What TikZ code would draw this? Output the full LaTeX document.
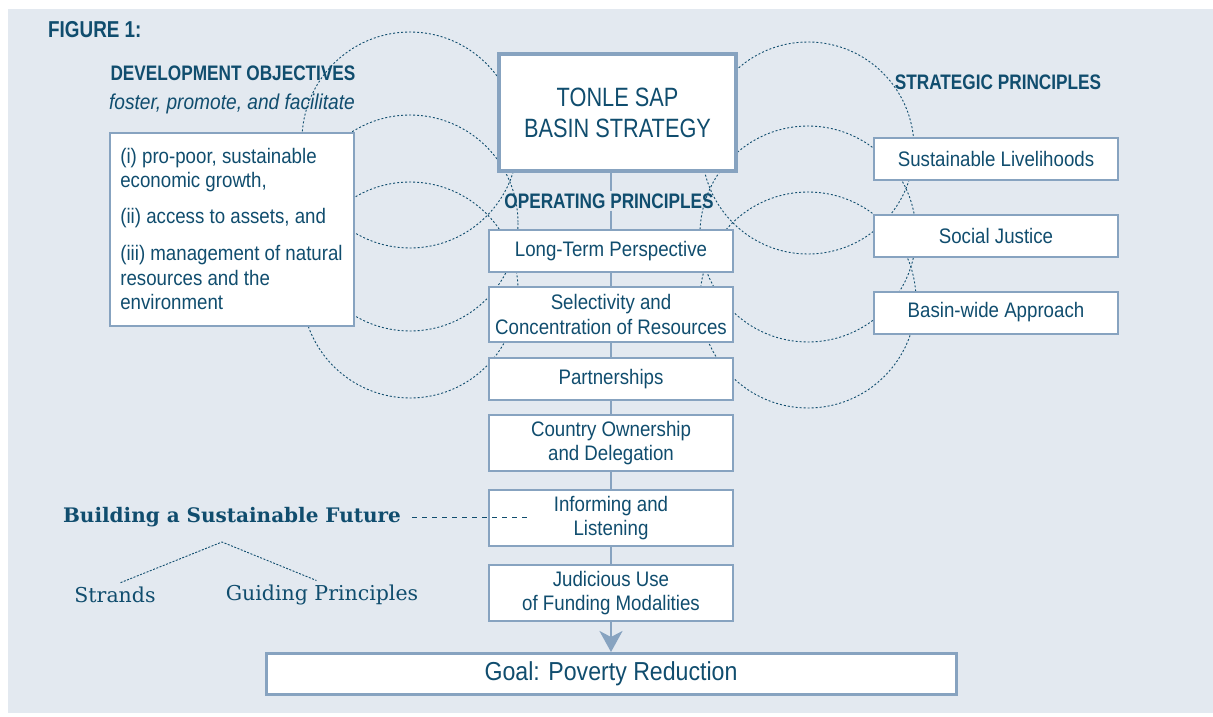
\documentclass[tikz,border=0pt]{standalone}
\usepackage{fontspec}
\setsansfont{Liberation Sans}[FakeStretch=0.89]
\newfontfamily\condfont{Liberation Sans}[FakeStretch=0.82]
\newfontfamily\slabfont{DejaVu Serif}
\usetikzlibrary{arrows.meta}
\definecolor{ink}{RGB}{16,77,110}
\definecolor{rimcol}{RGB}{135,163,192}
\definecolor{wash}{RGB}{227,233,240}

\begin{document}
\begin{tikzpicture} [x=1pt, y=-1pt,
  box/.style={draw=rimcol, line width=2pt, fill=white, minimum width=244pt, minimum height=42pt, inner sep=0pt, align=center, text=ink, font=\sffamily\fontsize{21}{24.5}\selectfont},
  head/.style={text=ink, inner sep=2pt, font=\condfont\bfseries\fontsize{21}{24}\selectfont},
  serif/.style={text=ink, inner sep=2pt, font=\slabfont\fontsize{20.5}{24}\selectfont},
  ring/.style={draw=ink, line width=0.9pt, dash pattern=on 2pt off 2pt},
  spine/.style={draw=rimcol, line width=2.5pt},
  leader/.style={draw=ink, line width=1pt, dash pattern=on 5pt off 5pt},
  twig/.style={draw=ink, line width=0.9pt, dash pattern=on 2pt off 1.5pt}]
\useasboundingbox (0,0) rectangle (1213,717);
\fill[wash] (8,9) rectangle (1213,713);
% rings behind the boxes
\draw[ring] (410,140) circle [radius=108];
\draw[ring] (410,223) circle [radius=108];
\draw[ring] (410,290) circle [radius=108];
\draw[ring] (808,148) circle [radius=106];
\draw[ring] (808,234) circle [radius=108];
\draw[ring] (808,300) circle [radius=108];
% left side
\node[head, anchor=west, font=\condfont\bfseries\fontsize{23}{26}\selectfont] (figlabel) at (46,30) {FIGURE 1:};
\node[head] (devhead) at (233,73) {DEVELOPMENT OBJECTIVES};
\node[text=ink, font=\sffamily\itshape\fontsize{21.5}{24}\selectfont] (devverbs) at (232,104) {foster, promote, and facilitate};
\node[box, minimum width=244pt, minimum height=193pt, align=left] (devbox) at (231.5,229) {(i) pro-poor, sustainable\\economic growth,\\[11.5pt](ii) access to assets, and\\[12.5pt](iii) management of natural\\resources and the\\environment};
% centre column
\node[box, line width=3.3pt, minimum width=237pt, minimum height=117pt, font=\condfont\fontsize{26.5}{31}\selectfont] (tonle) at (617.5,112.5) {TONLE SAP\\BASIN STRATEGY};
\node[head] (ophead) at (609,201) {OPERATING PRINCIPLES};
\node[box] (lterm) at (611,251) {Long-Term Perspective};
\node[box, minimum height=55pt] (select) at (611,314.5) {Selectivity and\\Concentration of Resources};
\node[box] (partner) at (611,379) {Partnerships};
\node[box, minimum height=56pt] (owner) at (611,443) {Country Ownership\\and Delegation};
\node[box, minimum height=56pt] (inform) at (611,518) {Informing and\\Listening};
\node[box, minimum height=56pt] (judic) at (611,593) {Judicious Use\\of Funding Modalities};
\node[box, line width=3pt, minimum width=690pt, minimum height=41pt, font=\sffamily\fontsize{26}{30}\selectfont] (goal) at (611,674) {Goal: Poverty Reduction};
% right side
\node[head] (strathead) at (998,82) {STRATEGIC PRINCIPLES};
\node[box] (livelihood) at (996,158.5) {Sustainable Livelihoods};
\node[box] (justice) at (996,236) {Social Justice};
\node[box] (basinwide) at (996,312.5) {Basin-wide Approach};
% legend
\node[serif, font=\slabfont\bfseries\fontsize{20}{23}\selectfont] (future) at (232,517) {Building a Sustainable Future};
\node[serif] (strands) at (115,595) {Strands};
\node[serif] (guiding) at (322,595) {Guiding Principles};
\coordinate (fork) at (222,542);
\coordinate (tie) at (527,517);
% connectors
\draw[spine] (lterm.north |- tonle.south) -- (lterm.north |- ophead.north);
\draw[spine] (lterm.north |- ophead.south) -- (lterm.north);
\draw[spine] (lterm) -- (select);
\draw[spine] (select) -- (partner);
\draw[spine] (partner) -- (owner);
\draw[spine] (owner) -- (inform);
\draw[spine] (inform) -- (judic);
\draw[spine, -{Stealth[length=21pt, width=23pt, inset=6pt]}] (judic) -- (goal);
\draw[leader, shorten <=9pt] (future) -- (tie);
\draw[twig, shorten <=6pt, shorten >=6pt] (strands.north) -- (fork) -- (guiding.north);
\end{tikzpicture}
\end{document}
